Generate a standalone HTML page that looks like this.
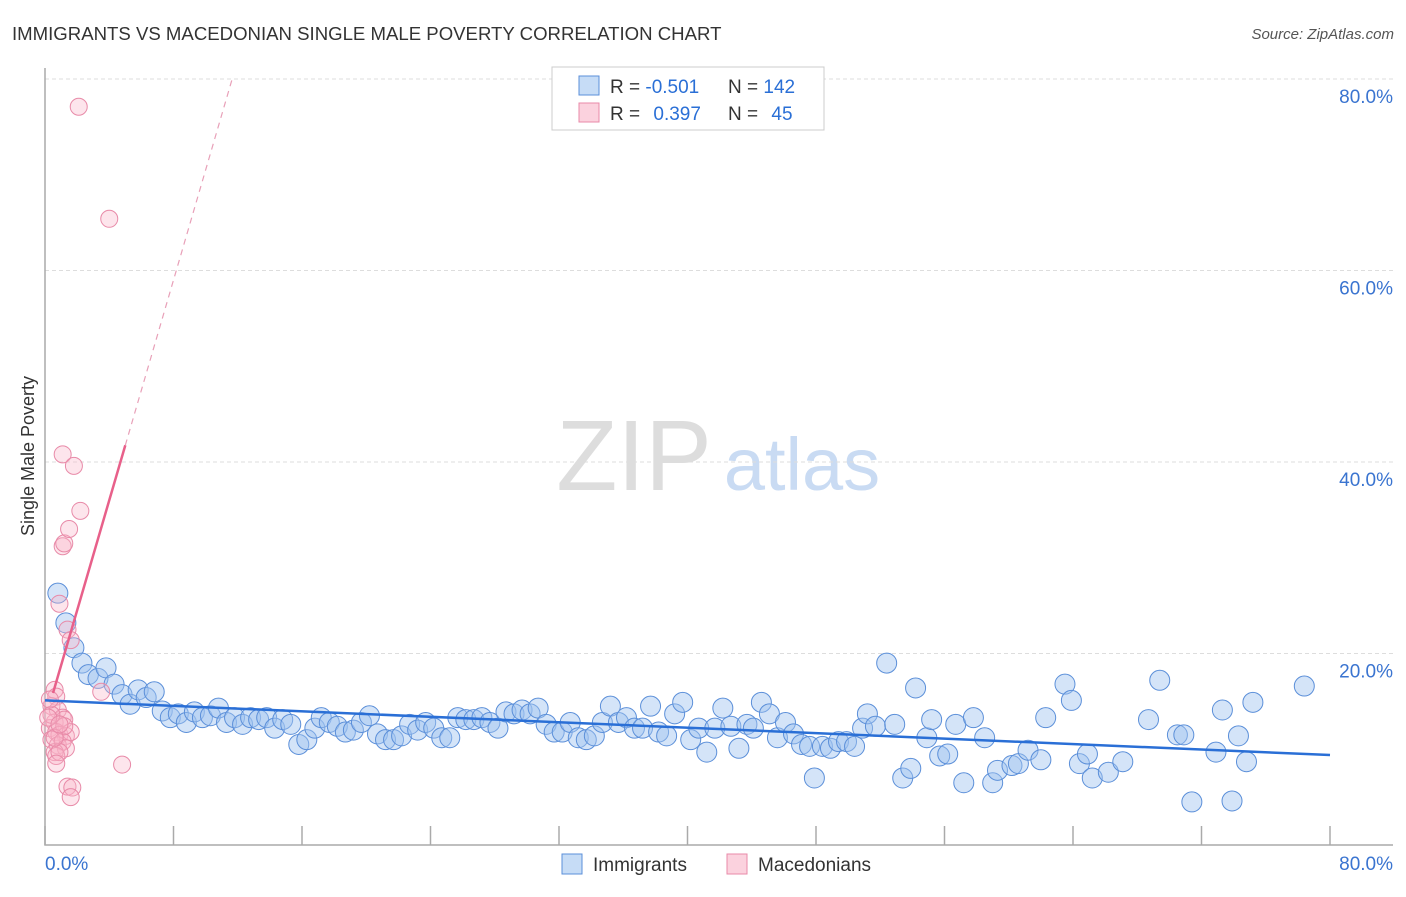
<!DOCTYPE html>
<html><head><meta charset="utf-8"><style>
body{margin:0;background:#fff;font-family:"Liberation Sans",sans-serif;}
svg text{font-family:"Liberation Sans",sans-serif;}
</style></head><body>
<svg id="chart" width="1406" height="892" viewBox="0 0 1406 892">
<text x="12" y="40" font-size="18.6" fill="#333">IMMIGRANTS VS MACEDONIAN SINGLE MALE POVERTY CORRELATION CHART</text>
<text x="1394" y="39" font-size="15" fill="#555" font-style="italic" text-anchor="end">Source: ZipAtlas.com</text>
<g>
<text x="634" y="490" font-size="100" fill="#ddd" font-family="Liberation Serif, serif" text-anchor="middle">ZIP</text>
<text x="802" y="490" font-size="74" fill="#c9dbf3" text-anchor="middle">atlas</text>
</g>
<g id="grid"></g>
<g id="axes"></g>
<g id="pts"></g>
<g id="lines"></g>
<text transform="translate(34,456) rotate(-90)" font-size="18" fill="#333" text-anchor="middle">Single Male Poverty</text>
<g>
<rect x="552" y="67" width="272" height="63" fill="#fff" stroke="#ccc"/>
<rect x="579" y="76" width="20" height="19" fill="rgba(160,196,240,0.6)" stroke="#5b8fd9"/>
<rect x="579" y="103" width="20" height="19" fill="rgba(248,180,200,0.6)" stroke="#e88aa8"/>
<text x="610" y="93" font-size="19" fill="#333">R = <tspan fill="#2a6fd6">-0.501</tspan></text>
<text x="728" y="93" font-size="19" fill="#333">N = <tspan fill="#2a6fd6">142</tspan></text>
<text x="610" y="120" font-size="19" fill="#333">R = <tspan fill="#2a6fd6" dx="8">0.397</tspan></text>
<text x="728" y="120" font-size="19" fill="#333">N = <tspan fill="#2a6fd6" dx="8">45</tspan></text>
</g>
<g>
<g><rect x="562" y="854" width="20" height="20" fill="rgba(160,196,240,0.6)" stroke="#5b8fd9"/><text x="593" y="871" font-size="19" fill="#333">Immigrants</text></g>
<g><rect x="727" y="854" width="20" height="20" fill="rgba(248,180,200,0.6)" stroke="#e88aa8"/><text x="758" y="871" font-size="19" fill="#333">Macedonians</text></g>
</g>
</svg>
<script>
const yTicks=[20,40,60,80];
const yTickLabels=["20.0%","40.0%","60.0%","80.0%"];
const xTicks=[0,8,16,24,32,40,48,56,64,72,80];
const immX=[0.8,1.3,1.8,2.3,2.7,3.3,3.8,4.3,4.8,5.3,5.8,6.3,6.8,7.3,7.8,8.3,8.8,9.3,9.8,10.3,10.8,11.3,11.8,12.3,12.8,13.3,13.8,14.3,14.8,15.3,15.8,16.3,16.8,17.2,17.7,18.2,18.7,19.2,19.7,20.2,20.7,21.2,21.7,22.2,22.7,23.2,23.7,24.2,24.7,25.2,25.7,26.2,26.7,27.2,27.7,28.2,28.7,29.2,29.7,30.2,30.7,31.2,31.7,32.2,32.7,33.2,33.7,34.2,34.7,35.2,35.7,36.2,36.7,37.2,37.7,38.2,38.7,39.2,39.7,40.2,40.7,41.2,41.7,42.2,42.7,43.2,43.7,44.1,44.6,45.1,45.6,46.1,46.6,47.1,47.6,47.9,48.4,48.9,49.4,49.9,50.4,50.9,51.2,51.7,52.4,52.9,53.4,53.9,54.2,54.9,55.2,55.7,56.2,56.7,57.2,57.8,58.5,59.0,59.3,60.2,60.6,61.2,62.0,62.3,63.5,63.9,64.4,64.9,65.2,66.2,67.1,68.7,69.4,70.5,70.9,71.4,72.9,73.3,73.9,74.3,74.8,75.2,78.4];
const immY=[26.3,23.2,20.6,19.0,17.8,17.4,18.5,16.8,15.7,14.7,16.2,15.4,16.0,14.0,13.3,13.7,12.8,13.9,13.3,13.5,14.3,12.8,13.3,12.6,13.3,13.1,13.3,12.2,13.1,12.6,10.5,11.0,12.2,13.3,12.8,12.4,11.8,12.0,12.8,13.5,11.6,11.0,11.0,11.4,12.6,12.0,12.8,12.2,11.2,11.2,13.3,13.1,13.1,13.3,12.8,12.2,13.9,13.7,14.1,13.7,14.3,12.6,11.8,11.8,12.8,11.2,11.0,11.4,12.8,14.5,12.8,13.3,12.2,12.2,14.5,11.8,11.4,13.7,14.9,11.0,12.2,9.7,12.2,14.3,12.4,10.1,12.6,12.2,14.9,13.7,11.2,12.8,11.6,10.5,10.3,7.0,10.3,10.1,10.8,10.8,10.3,12.2,13.7,12.4,19.0,12.6,7.0,8.0,16.4,11.2,13.1,9.3,9.5,12.6,6.5,13.3,11.2,6.5,7.8,8.3,8.5,9.9,8.9,13.3,16.8,15.1,8.5,9.5,7.0,7.6,8.7,13.1,17.2,11.5,11.5,4.5,9.7,14.1,4.6,11.4,8.7,14.9,16.6];
const macX=[2.1,4.0,1.1,1.8,1.1,1.2,1.5,2.2,0.9,1.4,1.6,3.5,0.6,0.7,0.4,0.8,1.1,0.6,1.2,0.3,0.7,0.9,1.3,1.6,0.4,0.8,1.1,1.3,0.6,0.7,0.9,0.7,4.8,1.4,1.7,1.6,0.4,1.2,0.2,0.3,0.6,0.9];
const macY=[77.1,65.4,40.8,39.6,31.2,31.5,33.0,34.9,25.2,22.5,21.4,16.0,16.2,15.5,14.5,14.1,13.3,12.8,13.1,12.2,11.8,11.5,11.4,11.8,11.0,10.4,10.8,10.1,9.7,9.3,9.7,8.5,8.4,6.1,6.0,5.0,13.6,12.4,13.3,15.2,11.2,12.6];
const immTrend=[15.1,9.4];
const macSlope=5.75, macIntercept=13.0;
const NS="http://www.w3.org/2000/svg";
const X0=45,X1=1330,Y0=845,PY=191.5/20;
function sx(v){return X0+(X1-X0)*v/80;}
function sy(v){return Y0-v*PY;}
function mk(tag,attrs,parent){const e=document.createElementNS(NS,tag);for(const k in attrs)e.setAttribute(k,attrs[k]);parent.appendChild(e);return e;}
const grid=document.getElementById('grid'),axes=document.getElementById('axes'),pts=document.getElementById('pts'),lines=document.getElementById('lines');
yTicks.forEach((t,i)=>{
 const l=mk('line',{x1:X0,x2:1393,y1:sy(t),y2:sy(t),stroke:'#ddd','stroke-dasharray':'4,3'},grid);
 
 
 const tx=mk('text',{x:1393,y:sy(t)+24,'font-size':19,fill:'#3a74d0','text-anchor':'end'},axes);
 tx.textContent=yTickLabels[i];
 
 
});
const ax=mk('path',{d:`M${X0},68 V${Y0} H1393`,fill:'none',stroke:'#aaa','stroke-width':1.5},axes);


xTicks.forEach(t=>{
 const l=mk('line',{x1:sx(t),x2:sx(t),y1:Y0,y2:Y0-19,stroke:'#aaa','stroke-width':1.5},axes);
 
 
});
[[0,'0.0%','start',45],[80,'80.0%','end',1393]].forEach(a=>{
 const tx=mk('text',{x:a[3],y:870,'font-size':19,fill:'#3a74d0','text-anchor':a[2]},axes);
 tx.textContent=a[1];
 
 
});
immX.forEach((v,i)=>{
 const c=mk('circle',{cx:sx(v),cy:sy(immY[i]),r:10,fill:'rgba(160,196,240,0.45)',stroke:'#5b8fd9','stroke-width':1},pts);
 
 
});
macX.forEach((v,i)=>{
 const c=mk('circle',{cx:sx(v),cy:sy(macY[i]),r:8.5,fill:'rgba(248,180,200,0.35)',stroke:'#e88aa8','stroke-width':1},pts);
 
 
});
const bl=mk('line',{x1:sx(0),y1:sy(immTrend[0]),x2:sx(80),y2:sy(immTrend[1]),stroke:'#2a6fd6','stroke-width':2.5},lines);


const m=x=>macIntercept+macSlope*x;
const pl=mk('line',{x1:sx(0.5),y1:sy(m(0.5)),x2:sx(5),y2:sy(m(5)),stroke:'#e8608a','stroke-width':2.5},lines);


const xe=(80-macIntercept)/macSlope;
const pd=mk('line',{x1:sx(5),y1:sy(m(5)),x2:sx(xe),y2:sy(80),stroke:'#e8a0b8','stroke-width':1.2,'stroke-dasharray':'6,5'},lines);


</script>
</body></html>
